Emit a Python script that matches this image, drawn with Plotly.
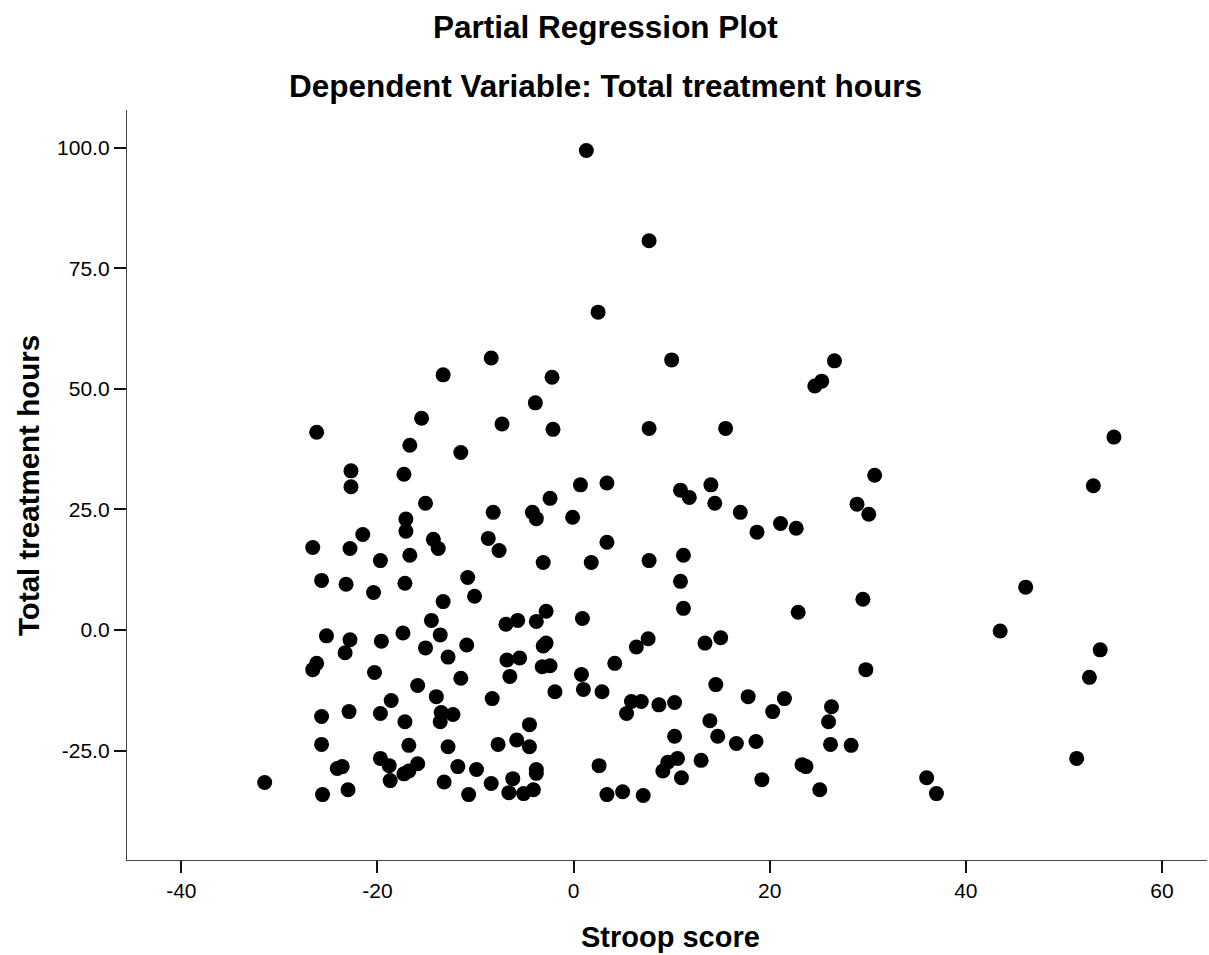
import plotly.graph_objects as go

# Partial regression residuals: Stroop score (x) vs total treatment hours (y)
stroop_score = [
    1.3, 7.7, 2.5, -8.4, 10.0, 26.6, -13.3, -2.2, 25.3, 24.6,
    -15.5, -7.3, -3.9, -2.1, 7.7, 15.5, -26.2, 55.1, -16.7, -11.5,
    -22.7, -22.7, -17.3, 30.7, 0.7, 3.4, 14.0, 10.9, 11.8, 53.0,
    -15.1, -2.4, 14.4, 28.9, 30.1, 17.0, -4.2, -3.8, -8.2, -17.1,
    -0.1, 21.1, 22.7, -17.1, 18.7, -21.5, -14.3, -8.7, 3.4, -26.6,
    -22.8, -13.8, -7.6, -16.7, 11.2, 1.8, 7.7, -3.1, -19.7, -10.8,
    -25.7, -17.2, -23.2, 10.9, 46.1, -20.4, -10.1, 29.5, -13.3, 11.2,
    22.9, -2.8, -5.7, -3.8, -14.5, 0.9, -6.9, 43.5, -17.4, -13.6,
    -25.2, 15.0, 7.6, -22.8, -19.6, 13.4, -10.9, -2.8, -3.1, 6.4,
    53.7, -23.3, -15.1, -12.8, -5.5, -6.8, -26.2, -26.6, -2.4, -3.2,
    4.2, 29.8, 0.8, -20.3, -6.5, -11.5, 52.6, -15.9, 14.5, -1.9,
    1.0, 2.9, -14.0, 17.8, 21.5, -18.6, -8.3, 5.9, 6.9, 10.3,
    8.7, 26.3, 20.3, -13.5, -12.3, 5.4, -19.7, -22.9, -25.7, -13.6,
    -17.2, 13.9, 26.0, -4.5, 10.3, 14.7, -5.8, -7.7, -4.5, -12.8,
    -16.8, 16.6, 18.6, -25.7, 26.2, 28.3, 51.3, 13.0, 9.6, 10.6,
    -19.7, 23.3, 23.7, 2.6, -11.8, -15.9, -18.8, -9.9, -23.6, -24.1,
    -3.8, 9.1, -3.8, -16.8, -17.3, -18.7, -6.2, 11.0, 19.2, 36.0,
    -31.5, -13.2, -8.4, -23.0, -4.1, 5.0, 25.1, -6.6, -5.1, -10.7,
    -25.6, 3.4, 7.1, 37.0,
]

treatment_hours = [
    99.4, 80.7, 65.9, 56.4, 56.0, 55.8, 52.9, 52.4, 51.6, 50.6,
    43.9, 42.7, 47.1, 41.6, 41.8, 41.8, 41.0, 40.0, 38.3, 36.8,
    33.0, 29.7, 32.3, 32.1, 30.1, 30.5, 30.1, 29.0, 27.5, 29.9,
    26.3, 27.3, 26.3, 26.1, 24.0, 24.4, 24.4, 23.1, 24.4, 23.0,
    23.4, 22.1, 21.1, 20.5, 20.3, 19.8, 18.8, 19.0, 18.2, 17.1,
    16.9, 16.9, 16.5, 15.5, 15.5, 14.0, 14.4, 14.0, 14.4, 10.9,
    10.3, 9.7, 9.5, 10.1, 8.9, 7.8, 7.0, 6.4, 5.9, 4.5,
    3.7, 3.9, 2.0, 1.8, 2.0, 2.4, 1.2, -0.2, -0.6, -1.0,
    -1.2, -1.6, -1.8, -2.0, -2.3, -2.7, -3.1, -2.7, -3.3, -3.5,
    -4.1, -4.7, -3.7, -5.6, -5.8, -6.2, -6.9, -8.2, -7.4, -7.6,
    -6.9, -8.2, -9.2, -8.8, -9.6, -10.0, -9.8, -11.5, -11.3, -12.8,
    -12.3, -12.8, -13.8, -13.8, -14.2, -14.6, -14.2, -14.8, -14.8, -15.0,
    -15.5, -15.9, -16.9, -17.1, -17.5, -17.3, -17.3, -16.9, -17.9, -19.0,
    -19.0, -18.8, -19.0, -19.6, -22.0, -22.0, -22.8, -23.7, -24.2, -24.2,
    -23.9, -23.5, -23.1, -23.7, -23.7, -23.9, -26.6, -27.0, -27.4, -26.6,
    -26.6, -27.9, -28.3, -28.1, -28.3, -27.7, -28.1, -28.9, -28.3, -28.7,
    -28.9, -29.2, -29.7, -29.2, -29.8, -31.2, -30.8, -30.6, -31.0, -30.6,
    -31.6, -31.5, -31.8, -33.1, -33.1, -33.5, -33.1, -33.7, -33.9, -34.1,
    -34.1, -34.1, -34.3, -33.9,
]

x_ticks = [-40, -20, 0, 20, 40, 60]
x_tick_labels = ["-40", "-20", "0", "20", "40", "60"]
y_ticks = [-25.0, 0.0, 25.0, 50.0, 75.0, 100.0]
y_tick_labels = ["-25.0", "0.0", "25.0", "50.0", "75.0", "100.0"]

title_main = "Partial Regression Plot"
title_sub = "Dependent Variable: Total treatment hours"
x_title = "Stroop score"
y_title = "Total treatment hours"

FONT = "Liberation Sans, Arial, sans-serif"

fig = go.Figure(
    go.Scatter(
        x=stroop_score,
        y=treatment_hours,
        mode="markers",
        marker=dict(size=15, color="#000000", line=dict(width=0)),
        hoverinfo="x+y",
    )
)

axis_common = dict(
    showgrid=False,
    zeroline=False,
    showline=True,
    linecolor="#444444",
    linewidth=1.3,
    ticks="outside",
    ticklen=12,
    tickwidth=2,
    tickcolor="#111111",
    tickfont=dict(family=FONT, size=21, color="#000000"),
    mirror=False,
)

fig.update_xaxes(
    range=[-45.54, 64.59],
    tickmode="array",
    tickvals=x_ticks,
    ticktext=x_tick_labels,
    **axis_common,
)
fig.update_yaxes(
    range=[-47.66, 107.8],
    tickmode="array",
    tickvals=y_ticks,
    ticktext=y_tick_labels,
    **axis_common,
)

annotations = [
    dict(text=f"<b>{title_main}</b>", x=0.4426, y=1.111, font=dict(size=31.5)),
    dict(text=f"<b>{title_sub}</b>", x=0.4426, y=1.032, font=dict(size=31.5)),
    dict(text=f"<b>{x_title}</b>", x=0.5037, y=-0.1027, font=dict(size=29)),
    dict(text=f"<b>{y_title}</b>", x=-0.0917, y=0.5, font=dict(size=29.5), textangle=-90),
]
for a in annotations:
    a.update(xref="paper", yref="paper", xanchor="center", yanchor="middle",
             showarrow=False)
    a["font"].update(family=FONT, color="#000000")

fig.update_layout(
    width=1209,
    height=955,
    margin=dict(l=127, r=2, t=110, b=95),
    paper_bgcolor="#ffffff",
    plot_bgcolor="#ffffff",
    showlegend=False,
    annotations=annotations,
)

fig.write_html("out.html")
